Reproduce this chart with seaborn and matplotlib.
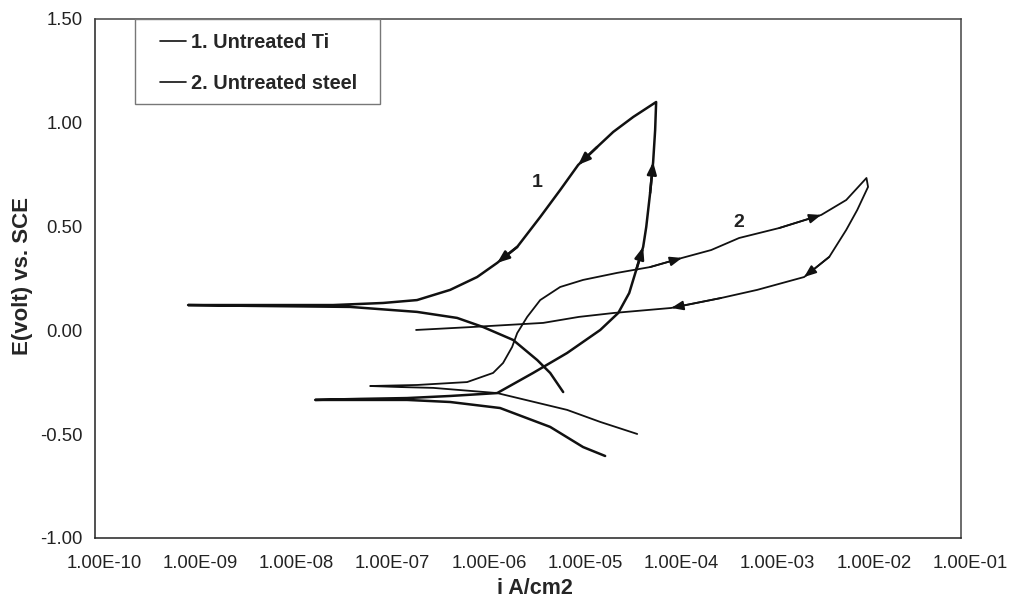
import matplotlib
matplotlib.use("Agg")
import matplotlib.pyplot as plt
import matplotlib.transforms as mtransforms
from matplotlib.lines import Line2D
from matplotlib.patches import Rectangle
import pandas as pd
import seaborn as sns

# ---------------- data ----------------
# Curve 1: untreated Ti (forward scan then reverse scan)
ti_current = [2.00e-5, 1.18e-5, 5.37e-6, 1.62e-6, 4.90e-7, 1.75e-7, 5.69e-8, 1.94e-8,
              5.69e-8, 1.75e-7, 4.90e-7, 1.51e-6, 3.57e-6, 8.05e-6, 1.78e-5, 2.74e-5,
              3.56e-5, 4.21e-5, 4.97e-5, 5.35e-5, 5.87e-5, 6.31e-5, 6.62e-5, 6.78e-5,
              3.92e-5, 2.43e-5, 1.65e-5, 1.05e-5, 6.82e-6, 4.23e-6, 2.44e-6, 1.51e-6,
              9.35e-7, 4.90e-7, 2.22e-7, 9.86e-8, 2.98e-8, 4.08e-9, 9.27e-10, 4.08e-9,
              4.48e-8, 2.22e-7, 5.79e-7, 1.08e-6, 2.21e-6, 3.94e-6, 5.37e-6, 7.33e-6]
ti_potential = [-0.605, -0.562, -0.465, -0.374, -0.345, -0.335, -0.335, -0.335,
                -0.330, -0.326, -0.316, -0.302, -0.205, -0.109, 0.002, 0.084,
                0.180, 0.291, 0.402, 0.498, 0.662, 0.811, 0.965, 1.100,
                1.028, 0.956, 0.883, 0.797, 0.676, 0.546, 0.402, 0.325,
                0.257, 0.195, 0.146, 0.132, 0.122, 0.122, 0.122, 0.118,
                0.113, 0.089, 0.060, 0.016, -0.046, -0.143, -0.205, -0.297]
ti_arrow_points = [18, 21, 27, 31]

# Curve 2: untreated steel (forward scan then reverse scan)
steel_current = [4.31e-5, 1.78e-5, 8.05e-6, 1.51e-6, 3.27e-7, 1.48e-7, 7.23e-8, 2.22e-7,
                 7.36e-7, 1.37e-6, 1.74e-6, 2.16e-6, 2.44e-6, 3.10e-6, 4.23e-6, 6.82e-6,
                 1.18e-5, 2.67e-5, 5.87e-5, 1.26e-4, 2.53e-4, 4.94e-4, 1.29e-3, 3.52e-3,
                 6.41e-3, 1.04e-2, 1.08e-2, 8.34e-3, 6.41e-3, 4.27e-3, 2.34e-3, 7.60e-4,
                 3.21e-4, 9.73e-5, 2.48e-5, 1.07e-5, 4.54e-6, 1.92e-6, 8.11e-7, 2.17e-7]
steel_potential = [-0.499, -0.441, -0.383, -0.302, -0.277, -0.273, -0.268, -0.263,
                   -0.249, -0.205, -0.157, -0.080, -0.013, 0.065, 0.146, 0.209,
                   0.243, 0.277, 0.305, 0.349, 0.387, 0.445, 0.493, 0.556,
                   0.628, 0.734, 0.691, 0.580, 0.484, 0.354, 0.257, 0.195,
                   0.156, 0.108, 0.084, 0.065, 0.036, 0.026, 0.016, 0.002]
steel_arrow_points = [19, 23, 30, 33]

series_names = ["1. Untreated Ti", "2. Untreated steel"]
curve_tags = ["1", "2"]
tag_current = [3.94e-6, 4.94e-4]
tag_potential = [0.710, 0.522]

x_ticks = [1e-10, 1e-9, 1e-8, 1e-7, 1e-6, 1e-5, 1e-4, 1e-3, 1e-2, 1e-1]
x_tick_labels = ["1.00E-10", "1.00E-09", "1.00E-08", "1.00E-07", "1.00E-06",
                 "1.00E-05", "1.00E-04", "1.00E-03", "1.00E-02", "1.00E-01"]
y_ticks = [-1.0, -0.5, 0.0, 0.5, 1.0, 1.5]
y_tick_labels = ["-1.00", "-0.50", "0.00", "0.50", "1.00", "1.50"]

# ---------------- plotting ----------------
sns.set_theme(style="white")
plt.rcParams["font.family"] = ["Liberation Sans", "DejaVu Sans"]

fig = plt.figure(figsize=(10.11, 6.04), dpi=100)
ax = fig.add_axes([0.094, 0.1093, 0.8566, 0.8593])

df_ti = pd.DataFrame({"i": ti_current, "E": ti_potential})
df_st = pd.DataFrame({"i": steel_current, "E": steel_potential})

styles = [(df_ti, 1.8, ti_arrow_points), (df_st, 1.3, steel_arrow_points)]
for df, lw, arrows in styles:
    sns.lineplot(data=df, x="i", y="E", sort=False, estimator=None,
                 color="#111111", lw=lw, ax=ax, legend=False)
    for k in arrows:
        ax.annotate("", xy=(df["i"][k], df["E"][k]),
                    xytext=(df["i"][k - 1], df["E"][k - 1]),
                    arrowprops=dict(arrowstyle="-|>,head_length=0.9,head_width=0.35",
                                    color="#111111", lw=lw, shrinkA=0, shrinkB=0,
                                    mutation_scale=8))

for t, xi, yi in zip(curve_tags, tag_current, tag_potential):
    ax.text(xi, yi, t, fontsize=14, fontweight="bold", ha="center", va="center",
            color="#222222")

ax.set_xscale("log")
ax.set_xlim(x_ticks[0], x_ticks[-1])
ax.set_ylim(y_ticks[0], y_ticks[-1])
ax.set_xticks(x_ticks)
ax.set_xticklabels(x_tick_labels)
ax.minorticks_off()
ax.set_yticks(y_ticks)
ax.set_yticklabels(y_tick_labels)
ax.tick_params(axis="both", length=0, labelsize=13.3, colors="#222222")
ax.tick_params(axis="x", pad=12)
ax.tick_params(axis="y", pad=9)
offset = mtransforms.ScaledTranslation(9 / 100, 0, fig.dpi_scale_trans)
for lab in ax.get_xticklabels():
    lab.set_transform(lab.get_transform() + offset)

ax.set_xlabel("i A/cm2", fontsize=15.5, fontweight="bold", va="center")
ax.set_ylabel("E(volt) vs. SCE", fontsize=16, fontweight="bold", va="center")
ax.xaxis.set_label_coords(0.508, -0.098)
ax.yaxis.set_label_coords(-0.084, 0.505)

for side, sp in ax.spines.items():
    sp.set_visible(True)
    sp.set_linewidth(1.1)
    sp.set_color("#222222" if side in ("left", "bottom") else "#444444")
ax.grid(False)

# legend box
ax.add_patch(Rectangle((0.046, 0.836), 0.283, 0.164, transform=ax.transAxes,
                       facecolor="white", edgecolor="#777777", lw=1.0, zorder=5))
handles = [Line2D([0, 1], [0, 0], color="#111111", lw=1.2) for _ in series_names]
leg = ax.legend(handles, series_names, loc="upper left",
                bbox_to_anchor=(0.075, 0.973), frameon=False, borderpad=0,
                borderaxespad=0, handlelength=1.3, handletextpad=0.25,
                labelspacing=1.1, prop={"weight": "bold", "size": 14.3})
leg.set_zorder(6)

fig.savefig("out.png", dpi=100)
